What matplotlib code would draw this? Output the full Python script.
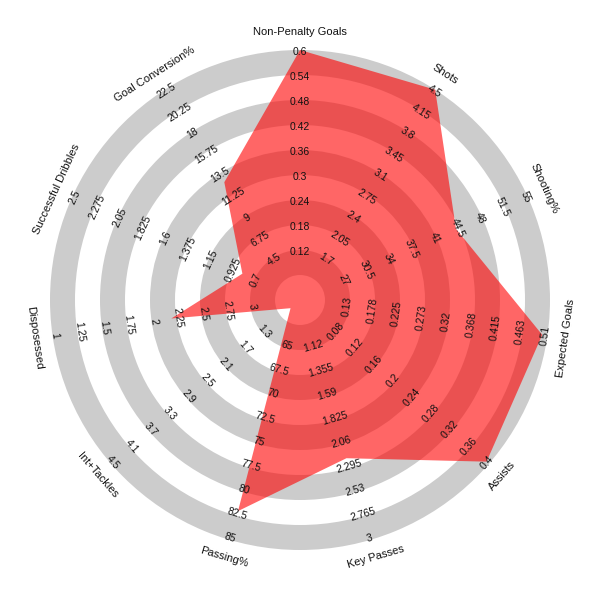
import numpy as np
import matplotlib
matplotlib.use("Agg")
import matplotlib.pyplot as plt
from matplotlib.patches import Wedge, Polygon

plt.rcParams['font.family'] = ['Liberation Sans', 'DejaVu Sans']

# parameters, clockwise from the top
params = ["Non-Penalty Goals", "Shots", "Shooting%", "Expected Goals", "Assists",
          "Key Passes", "Passing%", "Int+Tackles", "Disposessed",
          "Successful Dribbles", "Goal Conversion%"]

# range of each parameter (value at inner circle, value at outer circle)
range_lo = [0.06, 1.35, 23.5, 0.0825, 0.04, 0.885, 62.5, 0.9, 3.25, 0.475, 2.25]
range_hi = [0.6, 4.5, 55, 0.51, 0.4, 3.0, 85, 4.5, 1.0, 2.5, 22.5]

# player values
values = [0.6, 4.5, 44.0, 0.5, 0.395, 2.2, 82.0, 0.7, 2.2, 0.82, 12.6]

# tick labels along each axis, from the centre outwards
tick_labels = [
    ["0.12", "0.18", "0.24", "0.3", "0.36", "0.42", "0.48", "0.54", "0.6"],
    ["1.7", "2.05", "2.4", "2.75", "3.1", "3.45", "3.8", "4.15", "4.5"],
    ["27", "30.5", "34", "37.5", "41", "44.5", "48", "51.5", "55"],
    ["0.13", "0.178", "0.225", "0.273", "0.32", "0.368", "0.415", "0.463", "0.51"],
    ["0.08", "0.12", "0.16", "0.2", "0.24", "0.28", "0.32", "0.36", "0.4"],
    ["1.12", "1.355", "1.59", "1.825", "2.06", "2.295", "2.53", "2.765", "3"],
    ["65", "67.5", "70", "72.5", "75", "77.5", "80", "82.5", "85"],
    ["1.3", "1.7", "2.1", "2.5", "2.9", "3.3", "3.7", "4.1", "4.5"],
    ["3", "2.75", "2.5", "2.25", "2", "1.75", "1.5", "1.25", "1"],
    ["0.7", "0.925", "1.15", "1.375", "1.6", "1.825", "2.05", "2.275", "2.5"],
    ["4.5", "6.75", "9", "11.25", "13.5", "15.75", "18", "20.25", "22.5"],
]

R0 = 25      # inner circle
RMAX = 250   # outer circle
BAND = 25


def to_radius(v, lo, hi):
    return R0 + (v - lo) / (hi - lo) * (RMAX - R0)


def text_rotation(theta):
    rot = (theta - 90 + 180) % 360 - 180
    if rot > 90:
        rot -= 180
    elif rot < -90:
        rot += 180
    return rot


n = len(params)
angles = 90 - np.arange(n) * 360.0 / n

fig = plt.figure(figsize=(6, 6), dpi=100)
ax = fig.add_axes([0, 0, 1, 1])
ax.set_xlim(-300, 300)
ax.set_ylim(-300, 300)
ax.set_aspect("equal")
ax.axis("off")

# grey rings
for r_out in range(50, RMAX + 1, 2 * BAND):
    ax.add_patch(Wedge((0, 0), r_out, 0, 360, width=BAND, fc="#cccccc", ec="none", zorder=1))

# radar polygon
pts = []
for v, lo, hi, th in zip(values, range_lo, range_hi, angles):
    r = to_radius(v, lo, hi)
    pts.append((r * np.cos(np.radians(th)), r * np.sin(np.radians(th))))
ax.add_patch(Polygon(pts, closed=True, fc="#ff0000", alpha=0.6, ec="none", zorder=2))

# tick labels and parameter names
for i, th in enumerate(angles):
    rot = text_rotation(th)
    c, s = np.cos(np.radians(th)), np.sin(np.radians(th))
    for k, lab in enumerate(tick_labels[i]):
        r = 48 + k * BAND
        ax.text(r * c, r * s, lab, fontsize=7.5, rotation=rot, rotation_mode="anchor",
                ha="center", va="center", color="#111111", zorder=3)
    ax.text(268 * c, 268 * s, params[i], fontsize=8, rotation=rot, rotation_mode="anchor",
            ha="center", va="center", color="#111111", zorder=3)

fig.savefig("out.png", dpi=100, facecolor="white")
